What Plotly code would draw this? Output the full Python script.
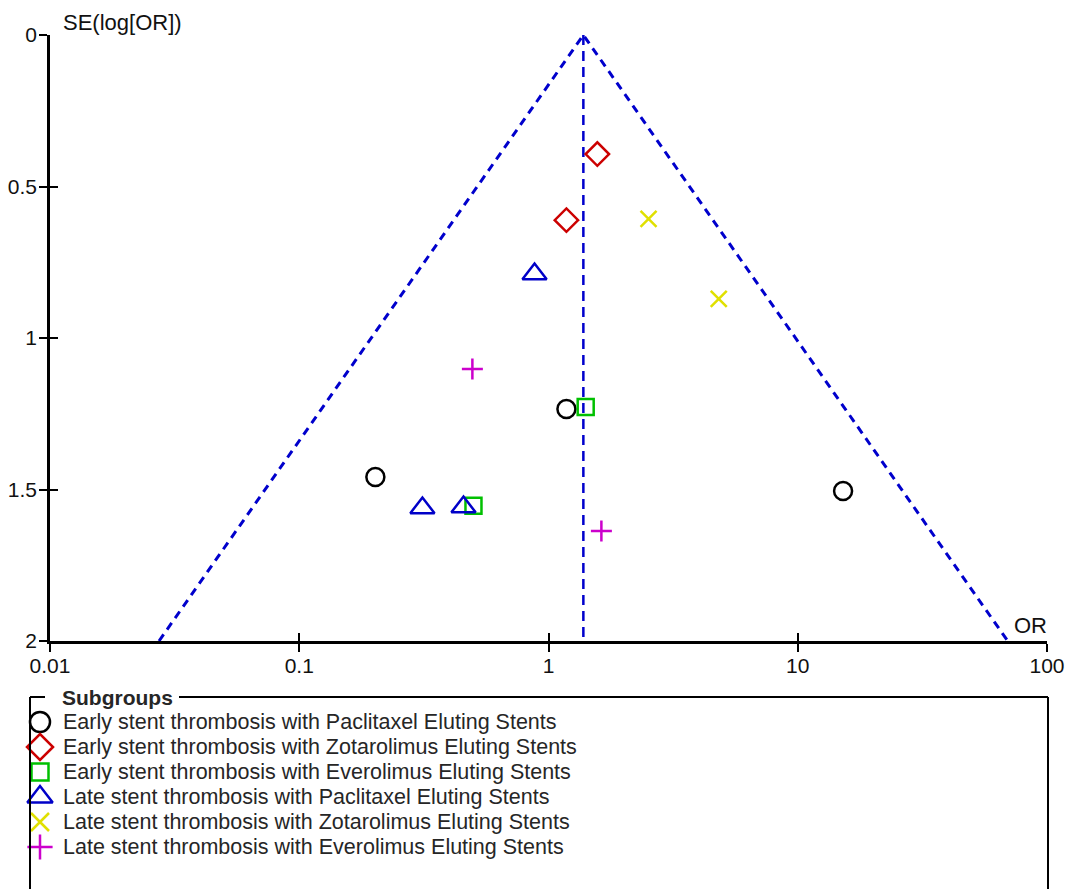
import numpy as np
import plotly.graph_objects as go

# Study estimates per subgroup: odds ratio and standard error of log(OR)
early_pes_or = [1.18, 0.202, 15.2]
early_pes_se = [1.234, 1.459, 1.505]
early_zes_or = [1.57, 1.18]
early_zes_se = [0.393, 0.611]
early_ees_or = [1.41, 0.50]
early_ees_se = [1.228, 1.554]
late_pes_or = [0.879, 0.312, 0.456]
late_pes_se = [0.789, 1.561, 1.558]
late_zes_or = [2.52, 4.82]
late_zes_se = [0.607, 0.871]
late_ees_or = [0.495, 1.63]
late_ees_se = [1.102, 1.637]

pooled_or = 1.38
se_max = 2.0

x_ticks = [0.01, 0.1, 1, 10, 100]
x_tick_labels = ["0.01", "0.1", "1", "10", "100"]
y_ticks = [0, 0.5, 1, 1.5, 2]
y_tick_labels = ["0", "0.5", "1", "1.5", "2"]

subgroup_names = [
    "Early stent thrombosis with Paclitaxel Eluting Stents",
    "Early stent thrombosis with Zotarolimus Eluting Stents",
    "Early stent thrombosis with Everolimus Eluting Stents",
    "Late stent thrombosis with Paclitaxel Eluting Stents",
    "Late stent thrombosis with Zotarolimus Eluting Stents",
    "Late stent thrombosis with Everolimus Eluting Stents",
]
subgroup_or = [early_pes_or, early_zes_or, early_ees_or, late_pes_or, late_zes_or, late_ees_or]
subgroup_se = [early_pes_se, early_zes_se, early_ees_se, late_pes_se, late_zes_se, late_ees_se]

# marker styling: symbol, colour, size in plot, size in key
styles = [
    ("circle-open", "#000000", 18, 20),
    ("diamond-open", "#cc0000", 18, 20),
    ("square-open", "#00c000", 16, 17),
    ("triangle-up-open", "#0000c8", 21, 22),
    ("x-thin-open", "#e0e000", 16, 18),
    ("cross-thin-open", "#cc00cc", 15, 18),
]

FONT = "Liberation Sans, Arial, sans-serif"
TEXT = "#262626"
funnel_color = "#0000cc"
W, H = 1067, 889

# page layout (pixels)
plot_l, plot_r, plot_t, plot_b = 50, 1047, 35, 641
box_l, box_r, box_t = 30, 1048, 697
key_first_row, key_row_step = 722, 25.0
key_symbol_x, key_text_x = 40, 62

def px_x(p):
    return p / W

def px_y(p):
    return (H - p) / H

fig = go.Figure()

# Pseudo 95% confidence funnel around the pooled estimate
ln_p = np.log(pooled_or)
left_or = float(np.exp(ln_p - 1.96 * se_max))
right_or = float(np.exp(ln_p + 1.96 * se_max))
fig.add_trace(go.Scatter(
    x=[left_or, pooled_or, right_or], y=[se_max, 0, se_max],
    mode="lines", line=dict(color=funnel_color, width=3, dash="8px,6px"),
    showlegend=False, hoverinfo="skip"))
fig.add_trace(go.Scatter(
    x=[pooled_or, pooled_or], y=[0, se_max],
    mode="lines", line=dict(color=funnel_color, width=2.5, dash="10px,6px"),
    showlegend=False, hoverinfo="skip"))

for name, xs, ys, (sym, col, size, _) in zip(subgroup_names, subgroup_or, subgroup_se, styles):
    fig.add_trace(go.Scatter(
        x=xs, y=ys, mode="markers", name=name, showlegend=False,
        marker=dict(symbol=sym, size=size, color=col,
                    line=dict(color=col, width=2.5)),
    ))

# Key symbols, one row per subgroup
for i, (sym, col, _, ksize) in enumerate(styles):
    fig.add_trace(go.Scatter(
        x=[key_symbol_x], y=[i], xaxis="x3", yaxis="y3", mode="markers",
        marker=dict(symbol=sym, size=ksize, color=col, line=dict(color=col, width=2.5)),
        showlegend=False, hoverinfo="skip"))

# Companion axes that draw the inner half of the crossing tick marks
fig.add_trace(go.Scatter(x=[None], y=[None], xaxis="x2", yaxis="y2",
                         showlegend=False, hoverinfo="skip"))

x_dom = [px_x(plot_l), px_x(plot_r)]
y_dom = [px_y(plot_b), px_y(plot_t)]
key_dom_top = 667
key_range = [(H - key_first_row) / key_row_step, (key_dom_top - key_first_row) / key_row_step]

axis_font = dict(family=FONT, size=21, color="#111111")
tick_common = dict(ticklen=8, tickwidth=2, tickcolor="black", showgrid=False,
                   zeroline=False, automargin=False)
fig.update_layout(
    width=W, height=H,
    margin=dict(l=0, r=0, t=0, b=0),
    paper_bgcolor="white", plot_bgcolor="white",
    font=dict(family=FONT, size=21, color=TEXT),
    showlegend=False,
    xaxis=dict(type="log", range=[-2, 2], domain=x_dom, tickvals=x_ticks,
               ticktext=x_tick_labels, ticks="outside", showline=True,
               linecolor="black", linewidth=2.5, tickfont=axis_font, anchor="y",
               ticklabelstandoff=-4, **tick_common),
    yaxis=dict(range=[2, 0], domain=y_dom, tickvals=y_ticks, ticktext=y_tick_labels,
               ticks="outside", showline=True, linecolor="black", linewidth=2.5,
               tickfont=axis_font, anchor="x", ticklabelstandoff=-2, **tick_common),
    xaxis2=dict(type="log", range=[-2, 2], tickvals=x_ticks, overlaying="x",
                anchor="y2", side="bottom", ticks="inside", showticklabels=False,
                showline=False, **tick_common),
    yaxis2=dict(range=[2, 0], tickvals=y_ticks, overlaying="y", anchor="x2",
                side="left", ticks="inside", showticklabels=False, showline=False,
                **tick_common),
    xaxis3=dict(domain=[0, 1], range=[0, W], visible=False, anchor="y3", fixedrange=True),
    yaxis3=dict(domain=[0, px_y(key_dom_top)], range=key_range, visible=False,
                anchor="x3", fixedrange=True),
)

# Axis captions
fig.add_annotation(text="SE(log[OR])", xref="paper", yref="paper",
                   x=px_x(61), y=px_y(22), xanchor="left", yanchor="middle",
                   showarrow=False, font=dict(family=FONT, size=22, color="#111111"))
fig.add_annotation(text="OR", xref="paper", yref="paper",
                   x=px_x(1049), y=px_y(625), xanchor="right", yanchor="middle",
                   showarrow=False, font=dict(family=FONT, size=22, color="#111111"))

# Subgroups box with the caption set into its top edge
line_style = dict(color="black", width=2)
for x0, x1, y0, y1 in [(box_l, 45, box_t, box_t), (179, box_r, box_t, box_t),
                       (box_l, box_l, box_t, H + 5), (box_r, box_r, box_t, H + 5)]:
    fig.add_shape(type="line", xref="paper", yref="paper",
                  x0=px_x(x0), x1=px_x(x1), y0=px_y(y0), y1=px_y(y1), line=line_style)
fig.add_annotation(text="<b>Subgroups</b>", xref="paper", yref="paper",
                   x=px_x(61), y=px_y(box_t), xanchor="left", yanchor="middle",
                   showarrow=False, borderpad=0,
                   font=dict(family=FONT, size=21, color=TEXT))

for i, name in enumerate(subgroup_names):
    fig.add_annotation(text=name, xref="paper", yref="paper",
                       x=px_x(key_text_x), y=px_y(key_first_row + i * key_row_step),
                       xanchor="left", yanchor="middle", showarrow=False, borderpad=0,
                       font=dict(family=FONT, size=21.5, color=TEXT))

fig.write_html("out.html")
